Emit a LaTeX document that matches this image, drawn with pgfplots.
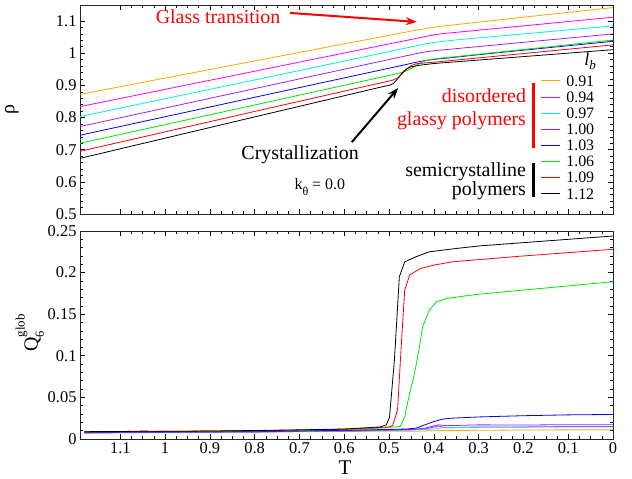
\documentclass[border=0pt]{standalone}
\usepackage{pgfplots}
\pgfplotsset{compat=1.18}
\usepackage{fontspec}
\setmainfont{Liberation Serif}
\usetikzlibrary{arrows.meta}
\definecolor{corange}{RGB}{255,165,0}
\definecolor{cmagenta}{RGB}{255,0,255}
\definecolor{ccyan}{RGB}{0,240,240}
\definecolor{cpurple}{RGB}{160,32,240}
\definecolor{cblue}{RGB}{0,0,255}
\definecolor{cgreen}{RGB}{0,230,0}
\definecolor{cred}{RGB}{255,0,0}
\pgfplotsset{
  common/.style={
    scale only axis, width=533bp,
    x dir=reverse, xmin=0, xmax=1.19,
    xtick={0,0.1,0.2,0.3,0.4,0.5,0.6,0.7,0.8,0.9,1,1.1},
    minor x tick num=3, minor y tick num=4,
    tick label style={font=\fontsize{16.5}{18}\selectfont},
    major tick length=5bp, minor tick length=3bp,
    every tick/.style={black, line width=0.6bp},
    axis line style={line width=0.8bp, black!85},
    scaled ticks=false,
    every axis plot/.append style={line width=0.8bp, no markers},
  }
}
\begin{document}
\begin{tikzpicture}
\path[use as bounding box] (0,0) rectangle (632bp,479bp);
% ---------------- top panel
\begin{axis}[common, at={(80bp,265bp)}, anchor=south west, height=209bp,
  ymin=0.5, ymax=1.15, ytick={0.5,0.6,0.7,0.8,0.9,1,1.1},
  yticklabels={0.5,0.6,0.7,0.8,0.9,1,1.1},
  xticklabels={},
  ylabel={ρ}, ylabel style={at={(axis description cs:-0.128,0.5)}, anchor=center, inner sep=0pt, font=\fontsize{20}{22}\selectfont},
  legend style={draw=none, fill=none, at={(rel axis cs:0.864,0.668)}, anchor=north west,
    inner sep=0pt, outer sep=0pt,
    font=\fontsize{16}{16}\selectfont, row sep=3.1bp, column sep=5bp,
    nodes={inner sep=1bp, text height=11bp, text depth=0bp}},
  legend cell align=left,
  legend image code/.code={\draw[#1] (0bp,0bp) -- (19bp,0bp);},
]
\addplot[corange] coordinates {(1.19,0.872) (0.8,0.976) (0.5,1.0555) (0.45,1.069) (0.42,1.076) (0.40,1.081) (0.38,1.0845) (0.35,1.089) (0.3,1.0967) (0.2,1.112) (0.1,1.127) (0,1.142)};
\addlegendentry{0.91}
\addplot[cmagenta] coordinates {(1.19,0.834) (0.8,0.944) (0.5,1.029) (0.45,1.043) (0.42,1.0515) (0.40,1.057) (0.38,1.061) (0.35,1.065) (0.3,1.0718) (0.2,1.085) (0.1,1.0986) (0,1.112)};
\addlegendentry{0.94}
\addplot[ccyan] coordinates {(1.19,0.803) (0.8,0.917) (0.5,1.005) (0.45,1.0198) (0.42,1.0286) (0.40,1.033) (0.38,1.037) (0.35,1.0415) (0.3,1.0478) (0.2,1.060) (0.1,1.0726) (0,1.085)};
\addlegendentry{0.97}
\addplot[cpurple] coordinates {(1.19,0.772) (0.8,0.890) (0.5,0.9804) (0.45,0.9955) (0.43,1.0015) (0.41,1.006) (0.39,1.009) (0.36,1.013) (0.3,1.0208) (0.2,1.0339) (0.1,1.047) (0,1.060)};
\addlegendentry{1.00}
\addplot[cblue] coordinates {(1.19,0.745) (0.8,0.863) (0.5,0.9534) (0.46,0.9655) (0.44,0.972) (0.42,0.977) (0.40,0.981) (0.37,0.985) (0.3,0.9955) (0.2,1.0095) (0.1,1.0233) (0,1.037)};
\addlegendentry{1.03}
\addplot[cgreen] coordinates {(1.19,0.72) (0.8,0.839) (0.5,0.931) (0.48,0.937) (0.47,0.941) (0.46,0.946) (0.45,0.953) (0.44,0.962) (0.43,0.970) (0.42,0.976) (0.41,0.980) (0.39,0.984) (0.36,0.988) (0.3,0.9969) (0.2,1.0116) (0.1,1.0263) (0,1.041)};
\addlegendentry{1.06}
\addplot[cred] coordinates {(1.19,0.695) (0.8,0.819) (0.5,0.9137) (0.49,0.917) (0.48,0.924) (0.47,0.937) (0.46,0.952) (0.45,0.962) (0.44,0.967) (0.42,0.970) (0.40,0.972) (0.3,0.9855) (0.2,0.999) (0.1,1.0125) (0,1.026)};
\addlegendentry{1.09}
\addplot[black] coordinates {(1.19,0.673) (0.8,0.802) (0.51,0.8974) (0.50,0.900) (0.49,0.906) (0.48,0.922) (0.47,0.940) (0.46,0.952) (0.45,0.958) (0.43,0.963) (0.40,0.968) (0.3,0.9788) (0.2,0.9895) (0.1,1.0003) (0,1.011)};
\addlegendentry{1.12}
% annotations
\node[cred, font=\fontsize{20}{22}\selectfont] at (rel axis cs:0.259,0.943) {Glass transition};
\draw[cred, line width=2bp, -{Stealth[length=11bp,width=8bp]}] (rel axis cs:0.394,0.962) -- (rel axis cs:0.632,0.919);
\node[black, font=\fontsize{20}{22}\selectfont] at (rel axis cs:0.413,0.282) {Crystallization};
\draw[black, line width=2bp, -{Stealth[length=11bp,width=8bp]}] (rel axis cs:0.51,0.344) -- (rel axis cs:0.597,0.603);
\node[black, font=\fontsize{16}{18}\selectfont] at (rel axis cs:0.450,0.129) {k\raisebox{-0.7ex}{\fontsize{12}{12}\selectfont θ} = 0.0};
\node[inner sep=0pt, font=\fontsize{18}{20}\selectfont] at (rel axis cs:0.957,0.732) {\textit{l}\raisebox{-0.5ex}{\fontsize{13}{13}\selectfont\textit{b}}};
\draw[cred, line width=3bp] (rel axis cs:0.850,0.628) -- (rel axis cs:0.850,0.316);
\draw[black, line width=3bp] (rel axis cs:0.850,0.244) -- (rel axis cs:0.850,0.081);
\node[cred, anchor=east, inner sep=1bp, align=right, font=\fontsize{20}{23}\selectfont] at (rel axis cs:0.839,0.50) {disordered\\glassy polymers};
\node[black, anchor=east, inner sep=1bp, align=right, font=\fontsize{20}{17}\selectfont] at (rel axis cs:0.839,0.1555) {semicrystalline\\polymers};
\end{axis}
% ---------------- bottom panel
\begin{axis}[common, at={(80bp,40bp)}, anchor=south west, height=208bp,
  ymin=0, ymax=0.25, ytick={0,0.05,0.1,0.15,0.2,0.25},
  yticklabels={0,0.05,0.1,0.15,0.2,0.25},
  xticklabels={0,0.1,0.2,0.3,0.4,0.5,0.6,0.7,0.8,0.9,1,1.1},
  xlabel={T}, xlabel style={at={(axis description cs:0.497,-0.139)}, anchor=center, font=\fontsize{21}{22}\selectfont},
  ylabel={Q\rlap{\raisebox{-0.7ex}{\fontsize{12.5}{12}\selectfont 6}}\raisebox{1.4ex}{\fontsize{13}{13}\selectfont glob}},
  ylabel style={at={(axis description cs:-0.094,0.51)}, anchor=center, inner sep=0pt, font=\fontsize{20}{22}\selectfont},
]
\addplot[corange] coordinates {(1.18,0.0075) (1.1,0.0078) (1.0,0.0080) (0.9,0.0082) (0.8,0.0085) (0.7,0.0088) (0.6,0.0090) (0.5,0.0095) (0.45,0.0092) (0.4,0.0100) (0.3,0.0105) (0.2,0.0108) (0.1,0.011) (0,0.011)};
\addplot[cmagenta] coordinates {(1.18,0.0070) (1.1,0.0075) (1.0,0.0078) (0.9,0.0080) (0.8,0.0082) (0.7,0.0090) (0.6,0.0095) (0.5,0.0105) (0.45,0.011) (0.42,0.012) (0.39,0.0155) (0.37,0.0135) (0.3,0.0145) (0.2,0.0145) (0.1,0.015) (0,0.015)};
\addplot[ccyan] coordinates {(1.18,0.0072) (1.1,0.0076) (1.0,0.0079) (0.9,0.0082) (0.8,0.0084) (0.7,0.0090) (0.6,0.0096) (0.5,0.0105) (0.45,0.0108) (0.4,0.012) (0.38,0.0135) (0.3,0.014) (0.2,0.0143) (0.1,0.0145) (0,0.0145)};
\addplot[cpurple] coordinates {(1.18,0.0078) (1.1,0.0080) (1.0,0.0083) (0.9,0.0085) (0.8,0.0088) (0.7,0.0094) (0.6,0.0100) (0.5,0.0110) (0.45,0.0115) (0.42,0.013) (0.39,0.017) (0.37,0.016) (0.3,0.017) (0.2,0.0168) (0.1,0.0172) (0,0.0172)};
\addplot[cblue] coordinates {(1.18,0.0080) (1.1,0.0083) (1.0,0.0085) (0.9,0.0088) (0.8,0.0092) (0.7,0.0098) (0.6,0.0105) (0.5,0.0115) (0.46,0.012) (0.44,0.013) (0.42,0.017) (0.40,0.021) (0.38,0.024) (0.36,0.025) (0.3,0.0265) (0.2,0.028) (0.1,0.029) (0,0.0295)};
\addplot[cgreen] coordinates {(1.18,0.0085) (1.1,0.0087) (1.0,0.0090) (0.9,0.0093) (0.8,0.0097) (0.7,0.0105) (0.6,0.0115) (0.55,0.012) (0.5,0.014) (0.475,0.015) (0.465,0.027) (0.454,0.055) (0.443,0.079) (0.432,0.111) (0.425,0.135) (0.41,0.155) (0.394,0.165) (0.371,0.169) (0.3,0.174) (0.2,0.179) (0.1,0.184) (0,0.189)};
\addplot[cred] coordinates {(1.18,0.0085) (1.1,0.0088) (1.0,0.0092) (0.9,0.0095) (0.8,0.0100) (0.7,0.0108) (0.6,0.0118) (0.55,0.013) (0.5,0.0145) (0.492,0.016) (0.481,0.035) (0.472,0.119) (0.465,0.179) (0.454,0.197) (0.43,0.205) (0.4,0.209) (0.358,0.213) (0.2,0.22) (0.1,0.224) (0,0.228)};
\addplot[black] coordinates {(1.18,0.0088) (1.1,0.0090) (1.05,0.0095) (1.0,0.0092) (0.9,0.0096) (0.8,0.0102) (0.7,0.0110) (0.6,0.012) (0.55,0.0135) (0.52,0.0145) (0.506,0.017) (0.499,0.026) (0.488,0.095) (0.477,0.195) (0.465,0.213) (0.44,0.219) (0.41,0.225) (0.35,0.229) (0.3,0.232) (0.2,0.236) (0.1,0.240) (0,0.244)};
\end{axis}
\end{tikzpicture}
\end{document}
